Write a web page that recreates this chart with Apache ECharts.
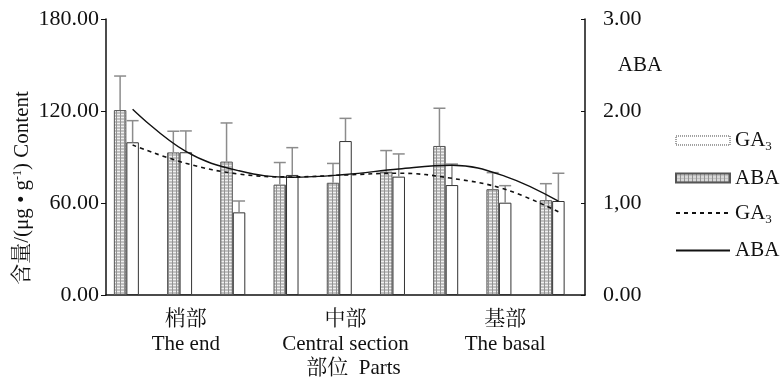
<!DOCTYPE html>
<html>
<head>
<meta charset="utf-8">
<script src="https://cdn.jsdelivr.net/npm/echarts@6/dist/echarts.min.js"></script>
<style>
html,body{margin:0;padding:0;background:#fff;}
#chart{width:783px;height:378px;}
</style>
</head>
<body>
<div id="chart"></div>
<script>
// ---- data ----
const categories = ['梢部-1','梢部-2','梢部-3','中部-1','中部-2','中部-3','基部-1','基部-2','基部-3'];
const partLabels = ['梢部\nThe end', '中部\nCentral section', '基部\nThe basal'];
const leftTicks = ['0.00', '60.00', '120.00', '180.00'];
const rightTicks = ['0.00', '1,00', '2.00', '3.00'];
// ABA bars (right axis) and their upper error
const abaBar = [2.01, 1.55, 1.45, 1.20, 1.22, 1.34, 1.62, 1.15, 1.03];
const abaErr = [0.37, 0.23, 0.42, 0.24, 0.21, 0.23, 0.41, 0.18, 0.18];
// GA3 bars (left axis) and their upper error
const ga3Bar = [99.6, 93.1, 53.9, 78.3, 100.4, 77.2, 71.7, 60.2, 61.3];
const ga3Err = [14.1, 13.9, 7.4, 17.8, 14.8, 14.8, 13.7, 11.1, 18.1];
// trend lines
const abaLine = [2.02, 1.56, 1.35, 1.28, 1.31, 1.37, 1.41, 1.29, 1.02];
const ga3Line = [97.8, 85.9, 78.9, 77.0, 78.3, 79.4, 76.1, 68.9, 54.3];

const FONT = "'Liberation Serif','Times New Roman','Noto Serif CJK SC','Noto Sans CJK SC',serif";
const BAR_W = 12.5;

function makeHatch() {
  const c = document.createElement('canvas');
  c.width = 4; c.height = 3;
  const g = c.getContext('2d');
  g.fillStyle = '#c0c0c0'; g.fillRect(0, 0, 4, 3);
  g.fillStyle = '#f0f0f0'; g.fillRect(0, 0, 4, 1);
  g.fillStyle = '#929292'; g.fillRect(0, 0, 1, 3);
  return c;
}
const hatch = { image: makeHatch(), repeat: 'repeat' };

function errData(base, err) {
  return base.map((v, i) => [i, v, +(v + err[i]).toFixed(3)]);
}
function errRender(offset) {
  return function (params, api) {
    const i = api.value(0);
    const p0 = api.coord([i, api.value(1)]);
    const p1 = api.coord([i, api.value(2)]);
    const x = p0[0] + offset;
    const st = { stroke: '#8c8c8c', lineWidth: 1.5 };
    return {
      type: 'group',
      children: [
        { type: 'line', shape: { x1: x, y1: p0[1], x2: x, y2: p1[1] }, style: st },
        { type: 'line', shape: { x1: x - 6, y1: p1[1], x2: x + 6, y2: p1[1] }, style: st }
      ]
    };
  };
}

const chart = echarts.init(document.getElementById('chart'), null, { renderer: 'canvas' });
const legendRich = {
  a: { fontSize: 21, fontFamily: FONT, color: '#111', lineHeight: 26, verticalAlign: 'middle' },
  s: { fontSize: 13, fontFamily: FONT, color: '#111', lineHeight: 8, verticalAlign: 'bottom' }
};

chart.setOption({
  animation: false,
  backgroundColor: '#fff',
  grid: { left: 106, right: 198, top: 19, bottom: 83, containLabel: false, outerBoundsMode: 'none' },
  legend: {
    orient: 'vertical', left: 670, top: 125,
    itemWidth: 54, itemHeight: 9, itemGap: 14,
    selectedMode: false,
    data: [
      { name: 'GA3-bar', icon: 'rect', itemStyle: { color: '#fff', borderColor: '#444', borderWidth: 1, borderType: 'dotted' } },
      { name: 'ABA-bar', icon: 'rect' },
      { name: 'GA3-line', itemStyle: { opacity: 0 } },
      { name: 'ABA-line', itemStyle: { opacity: 0 } }
    ],
    formatter: n => n.indexOf('GA3') === 0 ? '{a|GA}{s|3}' : '{a|ABA}',
    textStyle: { rich: legendRich, fontFamily: FONT, fontSize: 21 }
  },
  xAxis: [
    {
      type: 'category', data: categories, boundaryGap: true,
      axisLine: { show: true, lineStyle: { color: '#111', width: 1.5 } },
      axisTick: { show: false }, axisLabel: { show: false }, splitLine: { show: false }
    },
    {
      type: 'category', data: partLabels, position: 'bottom', boundaryGap: true,
      axisLine: { show: false }, axisTick: { show: false }, splitLine: { show: false },
      axisLabel: { interval: 0, hideOverlap: false, margin: 12, fontSize: 21, lineHeight: 25, fontFamily: FONT, color: '#111' },
      name: '部位  Parts', nameLocation: 'middle', nameGap: 63, nameMoveOverlap: false,
      nameTextStyle: { fontSize: 21, fontFamily: FONT, color: '#111', padding: [0, 0, 0, 16] }
    }
  ],
  yAxis: [
    {
      type: 'value', min: 0, max: 180, interval: 60, position: 'left',
      axisLine: { show: true, lineStyle: { color: '#111', width: 1.5 } },
      axisTick: { show: true, inside: false, length: 5, lineStyle: { color: '#111' } },
      splitLine: { show: false },
      axisLabel: { margin: 7, fontSize: 22, fontFamily: FONT, color: '#111',
        formatter: (v) => leftTicks[Math.round(v / 60)] }
    },
    {
      type: 'value', min: 0, max: 3, interval: 1, position: 'right',
      axisLine: { show: true, lineStyle: { color: '#111', width: 1.5 } },
      axisTick: { show: true, inside: true, length: 4, lineStyle: { color: '#111' } },
      splitLine: { show: false },
      axisLabel: { margin: 18, fontSize: 22, fontFamily: FONT, color: '#111',
        formatter: (v) => rightTicks[Math.round(v)] }
    }
  ],
  graphic: [
    {
      type: 'text', x: 22, y: 188, rotation: Math.PI / 2,
      style: {
        text: '含量/(μg • g{sup|-1}) Content',
        align: 'center', verticalAlign: 'middle',
        fontSize: 21, fontFamily: FONT, fill: '#111',
        rich: { sup: { fontSize: 12, fontFamily: FONT, fill: '#111', lineHeight: 8, verticalAlign: 'top' } }
      }
    },
    {
      type: 'text', x: 640, y: 65,
      style: { text: 'ABA', align: 'center', verticalAlign: 'middle', fontSize: 21, fontFamily: FONT, fill: '#111' }
    }
  ],
  series: [
    {
      name: 'ABA-bar', type: 'bar', xAxisIndex: 0, yAxisIndex: 1, data: abaBar,
      barWidth: BAR_W, barGap: '0%',
      itemStyle: { color: hatch, borderColor: '#555', borderWidth: 1 }
    },
    {
      name: 'GA3-bar', type: 'bar', xAxisIndex: 0, yAxisIndex: 0, data: ga3Bar,
      barWidth: BAR_W, barGap: '0%',
      itemStyle: { color: '#fff', borderColor: '#333', borderWidth: 1 }
    },
    {
      name: 'spacer', type: 'bar', xAxisIndex: 0, yAxisIndex: 0,
      data: categories.map(() => '-'), barWidth: BAR_W, barGap: '0%',
      itemStyle: { color: 'transparent' }, silent: true
    },
    {
      name: 'ABA-err', type: 'custom', xAxisIndex: 0, yAxisIndex: 1,
      data: errData(abaBar, abaErr), renderItem: errRender(-BAR_W), encode: { x: 0, y: [1, 2] }, z: 3
    },
    {
      name: 'GA3-err', type: 'custom', xAxisIndex: 0, yAxisIndex: 0,
      data: errData(ga3Bar, ga3Err), renderItem: errRender(0), encode: { x: 0, y: [1, 2] }, z: 3
    },
    {
      name: 'GA3-line', type: 'line', xAxisIndex: 0, yAxisIndex: 0, data: ga3Line,
      smooth: 0.4, symbol: 'none', z: 4,
      lineStyle: { color: '#111', width: 1.6, type: [4, 4] }, itemStyle: { color: '#111' }
    },
    {
      name: 'ABA-line', type: 'line', xAxisIndex: 0, yAxisIndex: 1, data: abaLine,
      smooth: 0.4, symbol: 'none', z: 4,
      lineStyle: { color: '#111', width: 1.4, type: 'solid' }, itemStyle: { color: '#111' }
    }
  ]
});
</script>
</body>
</html>
